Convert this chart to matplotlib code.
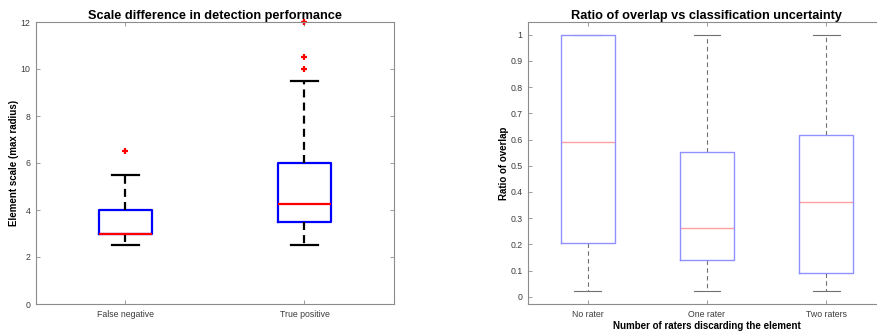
import matplotlib.pyplot as plt

plt.rcParams['font.family'] = ['Liberation Sans', 'DejaVu Sans']

# left panel: scale of detected / missed elements
det_labels = ['False negative', 'True positive']
det_whislo = [2.5, 2.5]
det_q1 = [3.0, 3.5]
det_med = [3.0, 4.25]
det_q3 = [4.0, 6.0]
det_whishi = [5.5, 9.5]
det_fliers = [[6.5], [10.0, 10.5, 12.0]]

# right panel: overlap ratio by number of raters
rat_labels = ['No rater', 'One rater', 'Two raters']
rat_whislo = [0.024, 0.022, 0.022]
rat_q1 = [0.205, 0.140, 0.090]
rat_med = [0.591, 0.264, 0.360]
rat_q3 = [1.0, 0.554, 0.619]
rat_whishi = [1.0, 1.0, 1.0]

spine_col = '#8c8c8c'
tick_col = '#3c3c3c'


def make_stats(labels, lo, q1, med, q3, hi, fl=None):
    out = []
    for i, lab in enumerate(labels):
        out.append(dict(label=lab, whislo=lo[i], q1=q1[i], med=med[i], q3=q3[i],
                        whishi=hi[i], fliers=fl[i] if fl else []))
    return out


def style_axes(ax):
    for s in ax.spines.values():
        s.set_color(spine_col)
        s.set_linewidth(0.8)
    ax.tick_params(direction='in', length=3, width=0.6, color=spine_col,
                   labelcolor=tick_col, labelsize=6.3, top=True, right=True, pad=4)


fig = plt.figure(figsize=(8.78, 3.33), dpi=100)

ax1 = fig.add_axes([36/878, 29/333, 358/878, 282/333])
bp1 = ax1.bxp(make_stats(det_labels, det_whislo, det_q1, det_med, det_q3, det_whishi, det_fliers),
              widths=0.3, showfliers=True,
              boxprops=dict(color='#0000ff', linewidth=1.6),
              medianprops=dict(color='#ff0000', linewidth=1.6),
              whiskerprops=dict(color='black', linewidth=1.6, linestyle=(0, (3.6, 2.3))),
              capprops=dict(color='black', linewidth=1.6),
              flierprops=dict(marker='+', markeredgecolor='#ff0000', markersize=5, markeredgewidth=1.6))
for f in bp1['fliers']:
    f.set_clip_on(False)
ax1.set_xlim(0.5, 2.5)
ax1.set_ylim(0, 12)
ax1.set_yticks(range(0, 13, 2))
ax1.set_title('Scale difference in detection performance', fontsize=9.2, fontweight='bold', pad=2.5)
ax1.set_ylabel('Element scale (max radius)', fontsize=7, fontweight='bold', labelpad=1)
style_axes(ax1)

ax2 = fig.add_axes([528/878, 29/333, 358/878, 282/333])
bp2 = ax2.bxp(make_stats(rat_labels, rat_whislo, rat_q1, rat_med, rat_q3, rat_whishi),
              widths=0.45, showfliers=False,
              boxprops=dict(color='#9090ff', linewidth=1.0),
              medianprops=dict(color='#ffa0a0', linewidth=1.0),
              whiskerprops=dict(color='#707070', linewidth=0.8, linestyle=(0, (4, 3))),
              capprops=dict(color='#707070', linewidth=0.8))
for b in bp2['boxes']:
    b.set_zorder(3)
ax2.set_xlim(0.5, 3.5)
ax2.set_ylim(-0.027, 1.048)
ax2.set_yticks([i/10 for i in range(11)])
ax2.set_yticklabels(['0'] + ['%.1f' % (i/10) for i in range(1, 10)] + ['1'])
ax2.set_title('Ratio of overlap vs classification uncertainty', fontsize=9.2, fontweight='bold', pad=2.5)
ax2.set_ylabel('Ratio of overlap', fontsize=7, fontweight='bold', labelpad=1)
ax2.set_xlabel('Number of raters discarding the element', fontsize=7, fontweight='bold', labelpad=2)
style_axes(ax2)

fig.savefig('out.png', dpi=100)
